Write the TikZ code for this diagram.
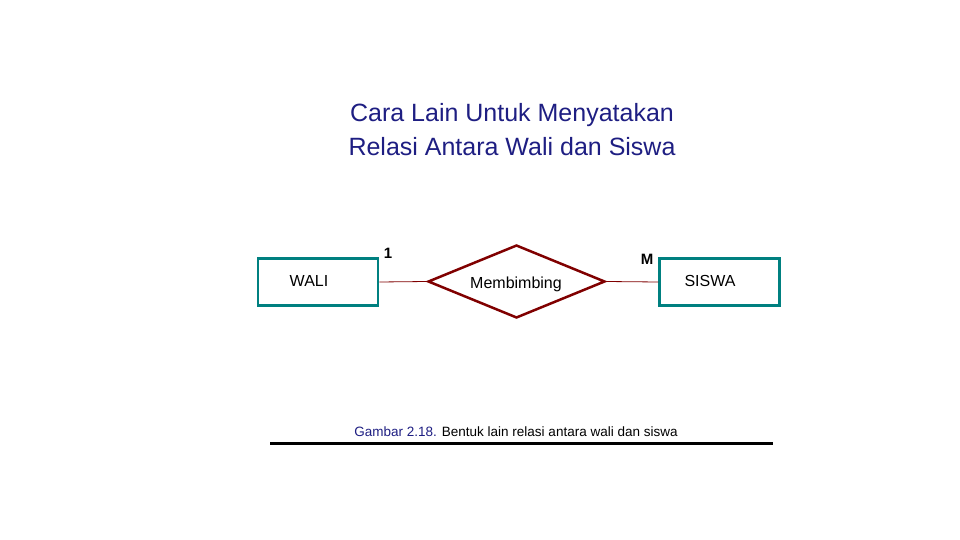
\documentclass[tikz,border=0pt]{standalone}
\usepackage{fontspec}
\setmainfont{Liberation Sans}
\usetikzlibrary{shapes.geometric}
\definecolor{teal2}{RGB}{0,128,128}
\definecolor{maroon2}{RGB}{128,0,0}
\definecolor{navy2}{RGB}{30,30,130}
\begin{document}
\begin{tikzpicture}[x=1pt,y=-1pt,
  ent/.style={draw=teal2,line width=2.5pt,minimum width=120pt,minimum height=47pt,inner sep=0pt},
  rel/.style={draw=maroon2,line width=2.5pt,diamond,minimum width=177pt,minimum height=73pt,inner sep=0pt,aspect=2.4},
  conn/.style={draw=maroon2,line width=0.8pt},
  lbl/.style={font=\fontsize{16}{18}\selectfont}]
\useasboundingbox (0,0) rectangle (960,540);
\node[font=\fontsize{25}{34}\selectfont,text=navy2,align=center] (title) at (512,130) {Cara Lain Untuk Menyatakan\\Relasi Antara Wali dan Siswa};
\node[ent] (wali) at (318,282) {};
\node[lbl] (walit) at (309,281) {WALI};
\node[ent] (siswa) at (719.5,282) {};
\node[lbl] (siswat) at (710,281) {SISWA};
\node[rel] (rel) at (516.5,281.5) {};
\node[lbl] (relt) at (516,284) {Membimbing};
\draw[conn] (wali.east) -- (rel.west);
\draw[conn] (rel.east) -- (siswa.west);
\node[font=\bfseries\fontsize{15}{16}\selectfont] (one) at (388,253) {1};
\node[font=\bfseries\fontsize{15}{16}\selectfont] (m) at (647,259) {M};
\node[font=\fontsize{13.5}{15}\selectfont] (cap) at (516,432) {\textcolor{navy2}{Gambar 2.18.} Bentuk lain relasi antara wali dan siswa};
\coordinate (r1) at (270,443);
\coordinate (r2) at (773,443);
\draw[line width=3pt] (r1) -- (r2);
\end{tikzpicture}
\end{document}
